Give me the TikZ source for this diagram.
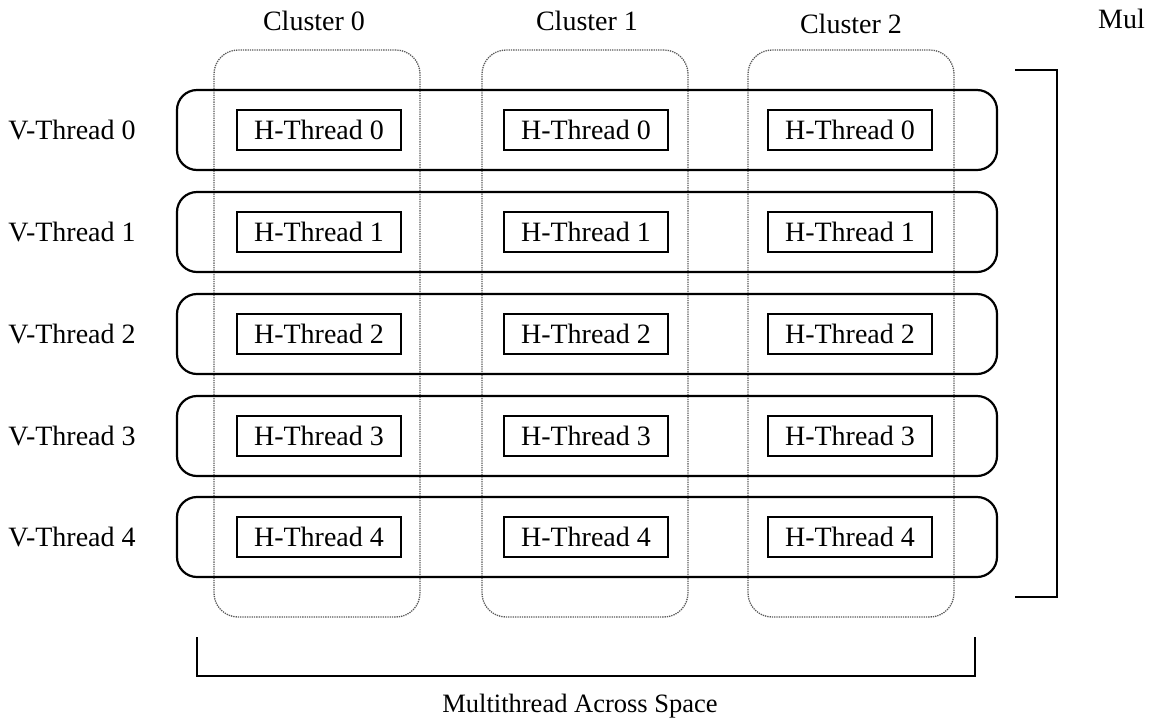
\documentclass[tikz,border=0pt]{standalone}
\usepackage{fontspec}
\setmainfont{Liberation Serif}
\begin{document}
\begin{tikzpicture}[x=1pt,y=-1pt,
  every node/.style={font=\fontsize{28}{33}\selectfont, inner sep=0pt},
  cluster/.style={draw=black!65, line width=1.3pt, densely dotted, rounded corners=24pt,
    minimum width=206pt, minimum height=567pt},
  vrow/.style={draw=black, line width=2.2pt, rounded corners=20pt,
    minimum width=820pt, minimum height=80pt},
  hbox/.style={draw=black, line width=1.8pt, minimum width=164pt, minimum height=40pt},
  brk/.style={draw=black, line width=2pt}]
\useasboundingbox (0,0) rectangle (1152,724);

% cluster outlines
\node[cluster] (c0) at (317,333.5) {};
\node[cluster] (c1) at (585,333.5) {};
\node[cluster] (c2) at (851,333.5) {};
\node (cl0) at (314,21) {Cluster 0};
\node (cl1) at (587,21) {Cluster 1};
\node (cl2) at (851,24) {Cluster 2};
\node[anchor=west] (mul) at (1098,19) {Mul};

% V-thread rows with their H-threads
\foreach \i/\y in {0/130,1/232,2/334,3/436,4/537}{
  \node[vrow] (v\i) at (587,\y) {};
  \node (vl\i) at (72,\y) {V-Thread \i};
  \node[hbox] (h0\i) at (319,\y) {H-Thread \i};
  \node[hbox] (h1\i) at (586,\y) {H-Thread \i};
  \node[hbox] (h2\i) at (850,\y) {H-Thread \i};
}

% bracket on the right
\coordinate (r1) at (1015,70);
\coordinate (r2) at (1057,70);
\coordinate (r3) at (1057,597);
\coordinate (r4) at (1015,597);
\draw[brk] (r1) -- (r2) -- (r3) -- (r4);

% bracket at the bottom
\coordinate (b1) at (197,637);
\coordinate (b2) at (197,676);
\coordinate (b3) at (975,676);
\coordinate (b4) at (975,637);
\draw[brk] (b1) -- (b2) -- (b3) -- (b4);
\node[font=\fontsize{26.5}{31}\selectfont] (space) at (580,706) {Multithread Across Space};
\end{tikzpicture}
\end{document}
